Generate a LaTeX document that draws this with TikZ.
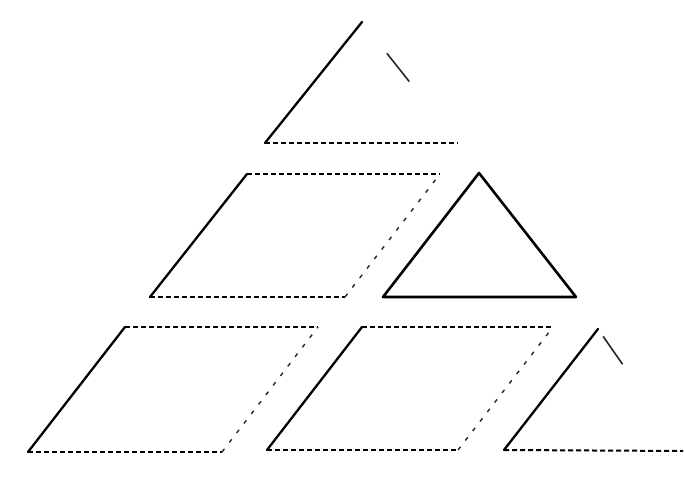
\documentclass[tikz,border=0pt]{standalone}
\begin{document}
\begin{tikzpicture}[x=1pt,y=-1pt,
  leftedge/.style={line width=2.3pt,black,line cap=round},
  flatedge/.style={line width=2pt,black,dash pattern=on 5pt off 3pt},
  sparseedge/.style={line width=1.4pt,black!85,dash pattern=on 4pt off 8pt},
  faintedgeT/.style={line width=1.6pt,black!85,dash pattern=on 0pt off 40pt on 36pt off 200pt},
  faintedgeC/.style={line width=1.6pt,black!85,dash pattern=on 0pt off 9pt on 34pt off 200pt},
  solidtri/.style={line width=2.6pt,black,line join=round}]
\useasboundingbox (0,0) rectangle (685,478);
% top triangle
\coordinate (Ta) at (362,22);
\coordinate (Tl) at (265,143);
\coordinate (Tr) at (458,143);
\draw[leftedge] (Tl) -- (Ta);
\draw[flatedge] (Tl) -- (Tr);
\draw[faintedgeT] (Ta) -- (Tr);
% middle parallelogram
\coordinate (Pbl) at (150,297);
\coordinate (Ptl) at (247,174);
\coordinate (Ptr) at (440,174);
\coordinate (Pbr) at (345,297);
\draw[leftedge] (Pbl) -- (Ptl);
\draw[flatedge] (Ptl) -- (Ptr);
\draw[flatedge] (Pbl) -- (Pbr);
\draw[sparseedge] (Pbr) -- (Ptr);
% middle triangle
\coordinate (Ma) at (479,173);
\coordinate (Ml) at (383,297);
\coordinate (Mr) at (576,297);
\draw[solidtri] (Ml) -- (Ma) -- (Mr) -- cycle;
% bottom parallelogram 1
\coordinate (Abl) at (28,452);
\coordinate (Atl) at (125,327);
\coordinate (Atr) at (318,327);
\coordinate (Abr) at (222,452);
\draw[leftedge] (Abl) -- (Atl);
\draw[flatedge] (Atl) -- (Atr);
\draw[flatedge] (Abl) -- (Abr);
\draw[sparseedge] (Abr) -- (Atr);
% bottom parallelogram 2
\coordinate (Bbl) at (267,450);
\coordinate (Btl) at (362,327);
\coordinate (Btr) at (553,327);
\coordinate (Bbr) at (458,450);
\draw[leftedge] (Bbl) -- (Btl);
\draw[flatedge] (Btl) -- (Btr);
\draw[flatedge] (Bbl) -- (Bbr);
\draw[sparseedge] (Bbr) -- (Btr);
% bottom triangle
\coordinate (Ca) at (598,329);
\coordinate (Cl) at (504,450);
\coordinate (Cr) at (683,451);
\draw[leftedge] (Cl) -- (Ca);
\draw[flatedge] (Cl) -- (Cr);
\draw[faintedgeC] (Ca) -- (Cr);
\end{tikzpicture}
\end{document}
